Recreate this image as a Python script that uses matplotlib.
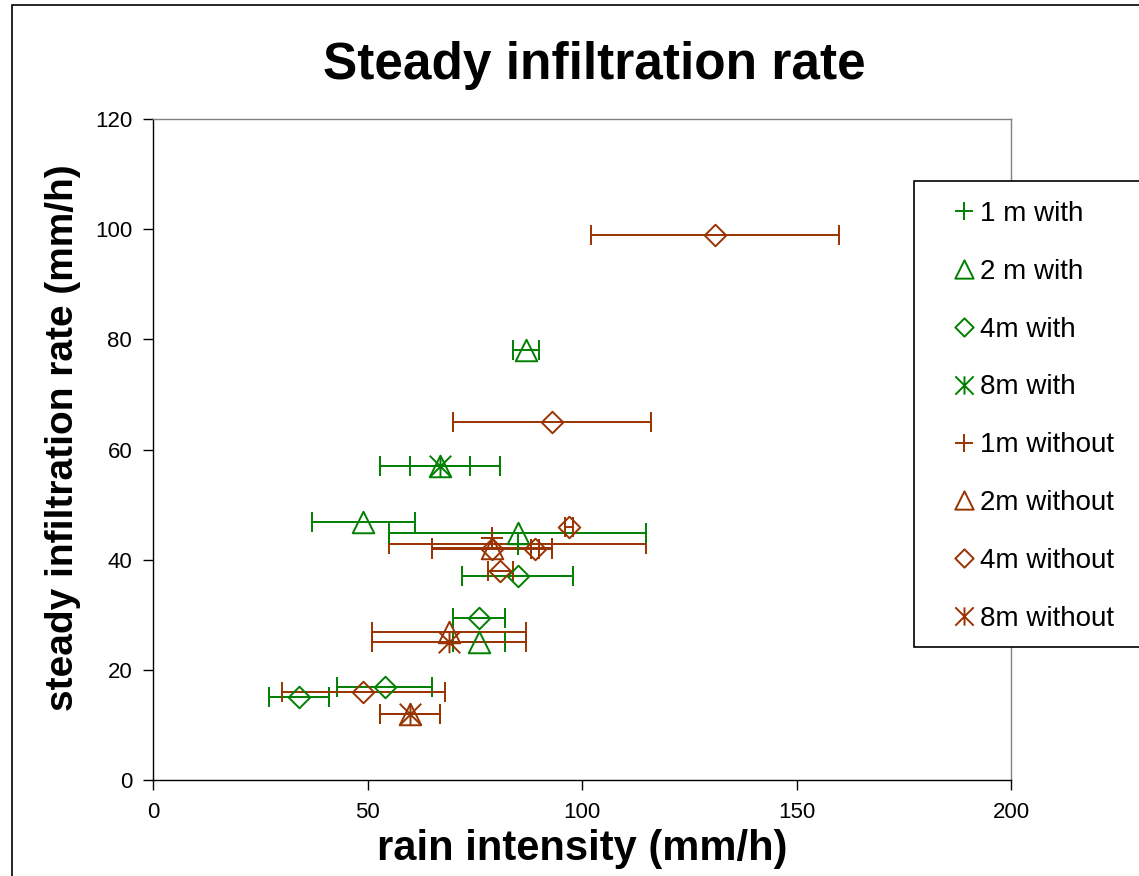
import matplotlib
matplotlib.use("Agg")
import matplotlib.pyplot as plt
from matplotlib.path import Path
from matplotlib.patches import Rectangle
import numpy as np

plt.rcParams['font.family'] = ['Liberation Sans', 'DejaVu Sans']

GREEN = '#008000'
BROWN = '#993300'

# ---- data (rain intensity x, steady infiltration y, x error half-width) ----
labels = ['1 m with', '2 m with', '4m with', '8m with',
          '1m without', '2m without', '4m without', '8m without']

x_1m_with = [85]
y_1m_with = [42.8]
e_1m_with = [30]

x_2m_with = [87, 67, 49, 85, 76]
y_2m_with = [78, 57, 46.8, 44.8, 25.1]
e_2m_with = [3, 7, 12, 30, 6]

x_4m_with = [85, 76, 54, 34]
y_4m_with = [37, 29.4, 16.9, 15]
e_4m_with = [13, 6, 11, 7]

x_8m_with = [67]
y_8m_with = [57]
e_8m_with = [14]

x_1m_without = [79]
y_1m_without = [44]
e_1m_without = [0]

x_2m_without = [79, 69, 60]
y_2m_without = [42.2, 26.9, 12]
e_2m_without = [14, 18, 7]

x_4m_without = [131, 93, 97, 89, 79, 81, 49]
y_4m_without = [99, 65, 46, 42, 42, 38, 16]
e_4m_without = [29, 23, 1, 1, 14, 3, 19]

x_8m_without = [69, 60]
y_8m_without = [25.1, 12]
e_8m_without = [18, 7]

xticks = [0, 50, 100, 150, 200]
yticks = [0, 20, 40, 60, 80, 100, 120]

# ---- custom markers ----
diamond = Path([(0, 1), (1, 0), (0, -1), (-1, 0), (0, 1)],
               [Path.MOVETO, Path.LINETO, Path.LINETO, Path.LINETO, Path.CLOSEPOLY])
asterisk = Path([(0, -1), (0, 1), (-1, -1), (1, 1), (-1, 1), (1, -1)],
                [Path.MOVETO, Path.LINETO, Path.MOVETO, Path.LINETO, Path.MOVETO, Path.LINETO])
triangle = Path([(0, 1), (-1, -1), (1, -1), (0, 1)],
                [Path.MOVETO, Path.LINETO, Path.LINETO, Path.CLOSEPOLY])

series = [
    (x_1m_with, y_1m_with, e_1m_with, '+', GREEN, BROWN),
    (x_2m_with, y_2m_with, e_2m_with, triangle, GREEN, GREEN),
    (x_4m_with, y_4m_with, e_4m_with, diamond, GREEN, GREEN),
    (x_8m_with, y_8m_with, e_8m_with, asterisk, GREEN, GREEN),
    (x_1m_without, y_1m_without, e_1m_without, '+', BROWN, BROWN),
    (x_2m_without, y_2m_without, e_2m_without, triangle, BROWN, BROWN),
    (x_4m_without, y_4m_without, e_4m_without, diamond, BROWN, BROWN),
    (x_8m_without, y_8m_without, e_8m_without, asterisk, BROWN, BROWN),
]

W, H = 1139, 876
fig = plt.figure(figsize=(W / 100, H / 100), dpi=100)
ax = fig.add_axes([153 / W, 1 - 780 / H, (1011 - 153) / W, (780 - 119) / H])

handles = []
for (xs, ys, es, mk, col, ecol), lab in zip(series, labels):
    ax.errorbar(xs, ys, xerr=es, fmt='none', ecolor=ecol, elinewidth=1.4,
                capsize=7, capthick=1.4, zorder=2)
    h, = ax.plot(xs, ys, linestyle='none', marker=mk, markersize=15.5,
                 markerfacecolor='none', markeredgecolor=col,
                 markeredgewidth=1.4, zorder=3, label=lab)
    handles.append(h)

ax.set_xlim(0, 200)
ax.set_ylim(0, 120)
ax.set_xticks(xticks)
ax.set_yticks(yticks)
ax.tick_params(direction='out', length=7, width=1, labelsize=16, colors='black')
ax.tick_params(axis='x', pad=9)
ax.tick_params(axis='y', pad=8)
for s in ['left', 'bottom']:
    ax.spines[s].set_color('black')
    ax.spines[s].set_linewidth(1)
for s in ['top', 'right']:
    ax.spines[s].set_color('#808080')
    ax.spines[s].set_linewidth(1)

ax.set_xlabel('rain intensity (mm/h)', fontsize=30, fontweight='bold', labelpad=4)
ax.set_ylabel('steady infiltration rate (mm/h)', fontsize=28, fontweight='bold')
ax.yaxis.set_label_coords((81 - 153) / (1011 - 153), (780 - 438) / (780 - 119))

fig.text(594 / W, 1 - 66 / H, 'Steady infiltration rate', fontsize=37,
         fontweight='bold', ha='center', va='center')

# outer chart border
fig.add_artist(Rectangle((12 / W, -0.5), 2.0, 0.5 + (1 - 5 / H),
                         transform=fig.transFigure, fill=False,
                         edgecolor='black', linewidth=1.2, zorder=1))

# legend frame
fig.add_artist(Rectangle((914 / W, 1 - 647 / H), 1.0, (647 - 181) / H,
                         transform=fig.transFigure, facecolor='white',
                         edgecolor='black', linewidth=1.2, zorder=4))

leg = fig.legend(handles=handles, loc='upper left',
                 bbox_to_anchor=(951.5 / W, 1 - (211 - 10) / H),
                 frameon=False, fontsize=20, borderpad=0, borderaxespad=0,
                 handlelength=0.9, handletextpad=0.12, labelspacing=1.145,
                 markerscale=0.85)
leg.set_zorder(5)

fig.savefig('out.png', dpi=100)
